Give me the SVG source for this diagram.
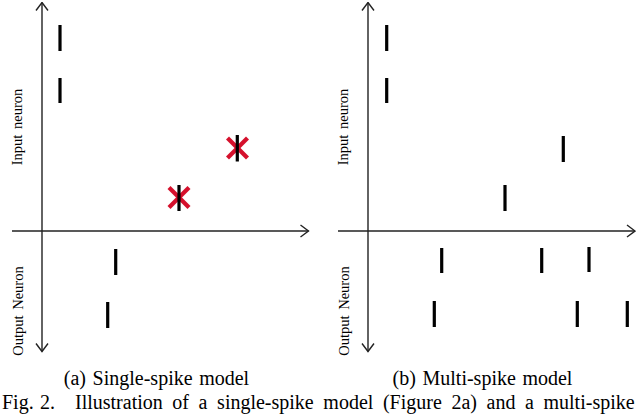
<svg xmlns="http://www.w3.org/2000/svg" width="640" height="420" viewBox="0 0 640 420">
<style>
.axis{stroke:#222;stroke-width:1.4;fill:none}
.spike{stroke:#000;stroke-width:3.2}
.x{stroke:#d5102c;stroke-width:4.2}
.lbl{font-family:"Liberation Serif","Times New Roman",serif;font-size:14.5px;fill:#000;word-spacing:2px}
.cap{font-family:"Liberation Serif","Times New Roman",serif;font-size:20px;fill:#000}
</style>
<defs>
<marker id="arr" viewBox="-9 -7 10 14" markerUnits="userSpaceOnUse" markerWidth="10" markerHeight="14" refX="0" refY="0" orient="auto">
<path d="M-8,-6 L0,0 L-8,6" fill="none" stroke="#222" stroke-width="1.4"/>
</marker>
</defs>
<g id="connectors">
<line class="axis" x1="42" y1="231" x2="42" y2="2.5" marker-end="url(#arr)"/>
<line class="axis" x1="42" y1="231" x2="42" y2="351.5" marker-end="url(#arr)"/>
<line class="axis" x1="12" y1="231" x2="308.5" y2="231" marker-end="url(#arr)"/>
<line class="axis" x1="368" y1="231" x2="368" y2="2.5" marker-end="url(#arr)"/>
<line class="axis" x1="368" y1="231" x2="368" y2="351.5" marker-end="url(#arr)"/>
<line class="axis" x1="338" y1="231" x2="635" y2="231" marker-end="url(#arr)"/>
</g>
<g id="panel-a">
<text class="lbl" transform="translate(22,127) rotate(-90)" text-anchor="middle">Input neuron</text>
<text class="lbl" transform="translate(22.5,311) rotate(-90)" text-anchor="middle">Output Neuron</text>
<line class="spike" x1="60" y1="25" x2="60" y2="51"/>
<line class="spike" x1="60" y1="78" x2="60" y2="103"/>
<line class="x" x1="227.5" y1="138" x2="247.5" y2="158"/>
<line class="x" x1="247.5" y1="138" x2="227.5" y2="158"/>
<line class="spike" x1="237.3" y1="135" x2="237.3" y2="161.5"/>
<line class="x" x1="169" y1="187.5" x2="189" y2="207.5"/>
<line class="x" x1="189" y1="187.5" x2="169" y2="207.5"/>
<line class="spike" x1="179" y1="185" x2="179" y2="211"/>
<line class="spike" x1="115.7" y1="249" x2="115.7" y2="275"/>
<line class="spike" x1="107.7" y1="302" x2="107.7" y2="328"/>
<text class="cap" x="156.5" y="385" text-anchor="middle" word-spacing="1.6">(a) Single-spike model</text>
</g>
<g id="panel-b">
<text class="lbl" transform="translate(348,127) rotate(-90)" text-anchor="middle">Input neuron</text>
<text class="lbl" transform="translate(348.5,311) rotate(-90)" text-anchor="middle">Output Neuron</text>
<line class="spike" x1="386.7" y1="25" x2="386.7" y2="51"/>
<line class="spike" x1="386.7" y1="78" x2="386.7" y2="103"/>
<line class="spike" x1="563.3" y1="136" x2="563.3" y2="162"/>
<line class="spike" x1="505" y1="185" x2="505" y2="211"/>
<line class="spike" x1="441.7" y1="248" x2="441.7" y2="273"/>
<line class="spike" x1="541.7" y1="248" x2="541.7" y2="273"/>
<line class="spike" x1="589" y1="247" x2="589" y2="272"/>
<line class="spike" x1="434.3" y1="301" x2="434.3" y2="327"/>
<line class="spike" x1="577.3" y1="301" x2="577.3" y2="327"/>
<line class="spike" x1="627.3" y1="301" x2="627.3" y2="327"/>
<text class="cap" x="482.5" y="385" text-anchor="middle" word-spacing="1.6">(b) Multi-spike model</text>
</g>
<g id="figure-caption">
<text class="cap" y="409"><tspan x="2">Fig.</tspan><tspan x="40">2.</tspan><tspan x="75" word-spacing="4.6">Illustration of a single-spike model (Figure 2a) and a multi-spike</tspan></text>
</g>
</svg>
